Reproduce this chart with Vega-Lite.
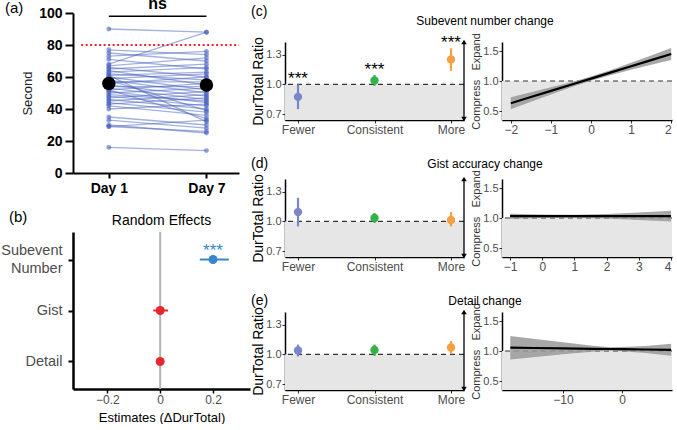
{
  "$schema": "https://vega.github.io/schema/vega-lite/v6.json",
  "background": "white",
  "padding": {"left": 0, "top": -4, "right": 4, "bottom": 0},
  "config": {
    "font": "Liberation Sans",
    "view": {"stroke": null},
    "axis": {"grid": false, "labelOverlap": false},
    "title": {"fontWeight": "normal", "color": "black"}
  },
  "datasets": {
    "indiv": [
      {"id":1,"day":1,"sec":90},{"id":1,"day":7,"sec":88},
      {"id":2,"day":1,"sec":77},{"id":2,"day":7,"sec":74},
      {"id":3,"day":1,"sec":75},{"id":3,"day":7,"sec":70},
      {"id":4,"day":1,"sec":73},{"id":4,"day":7,"sec":76},
      {"id":5,"day":1,"sec":71},{"id":5,"day":7,"sec":65},
      {"id":6,"day":1,"sec":68},{"id":6,"day":7,"sec":88},
      {"id":7,"day":1,"sec":67},{"id":7,"day":7,"sec":72},
      {"id":8,"day":1,"sec":66},{"id":8,"day":7,"sec":60},
      {"id":9,"day":1,"sec":65},{"id":9,"day":7,"sec":68},
      {"id":10,"day":1,"sec":64},{"id":10,"day":7,"sec":55},
      {"id":11,"day":1,"sec":63},{"id":11,"day":7,"sec":66},
      {"id":12,"day":1,"sec":62},{"id":12,"day":7,"sec":58},
      {"id":13,"day":1,"sec":61},{"id":13,"day":7,"sec":63},
      {"id":14,"day":1,"sec":60},{"id":14,"day":7,"sec":52},
      {"id":15,"day":1,"sec":59},{"id":15,"day":7,"sec":62},
      {"id":16,"day":1,"sec":58},{"id":16,"day":7,"sec":50},
      {"id":17,"day":1,"sec":57},{"id":17,"day":7,"sec":57},
      {"id":18,"day":1,"sec":56},{"id":18,"day":7,"sec":60},
      {"id":19,"day":1,"sec":55},{"id":19,"day":7,"sec":48},
      {"id":20,"day":1,"sec":54},{"id":20,"day":7,"sec":54},
      {"id":21,"day":1,"sec":53},{"id":21,"day":7,"sec":46},
      {"id":22,"day":1,"sec":52},{"id":22,"day":7,"sec":56},
      {"id":23,"day":1,"sec":51},{"id":23,"day":7,"sec":44},
      {"id":24,"day":1,"sec":50},{"id":24,"day":7,"sec":53},
      {"id":25,"day":1,"sec":49},{"id":25,"day":7,"sec":45},
      {"id":26,"day":1,"sec":48},{"id":26,"day":7,"sec":42},
      {"id":27,"day":1,"sec":47},{"id":27,"day":7,"sec":51},
      {"id":28,"day":1,"sec":46},{"id":28,"day":7,"sec":40},
      {"id":29,"day":1,"sec":45},{"id":29,"day":7,"sec":49},
      {"id":30,"day":1,"sec":44},{"id":30,"day":7,"sec":38},
      {"id":31,"day":1,"sec":43},{"id":31,"day":7,"sec":47},
      {"id":32,"day":1,"sec":42},{"id":32,"day":7,"sec":36},
      {"id":33,"day":1,"sec":40},{"id":33,"day":7,"sec":43},
      {"id":34,"day":1,"sec":52},{"id":34,"day":7,"sec":34},
      {"id":35,"day":1,"sec":58},{"id":35,"day":7,"sec":39},
      {"id":36,"day":1,"sec":35},{"id":36,"day":7,"sec":30},
      {"id":37,"day":1,"sec":61},{"id":37,"day":7,"sec":32},
      {"id":38,"day":1,"sec":33},{"id":38,"day":7,"sec":28},
      {"id":39,"day":1,"sec":30},{"id":39,"day":7,"sec":25},
      {"id":40,"day":1,"sec":29},{"id":40,"day":7,"sec":26},
      {"id":41,"day":1,"sec":29},{"id":41,"day":7,"sec":33},
      {"id":42,"day":1,"sec":16},{"id":42,"day":7,"sec":14}
    ],
    "means": [{"day":1,"sec":56},{"day":7,"sec":55}],
    "re": [
      {"term":"Subevent Number","est":0.2,"lo":0.15,"hi":0.26,"sig":"***"},
      {"term":"Gist","est":0,"lo":-0.026,"hi":0.03,"sig":""},
      {"term":"Detail","est":0,"lo":-0.006,"hi":0.006,"sig":""}
    ],
    "c_pts": [
      {"cond":"Fewer","est":0.874,"lo":0.75,"hi":1.0,"sig":"***"},
      {"cond":"Consistent","est":1.04,"lo":0.986,"hi":1.095,"sig":"***"},
      {"cond":"More","est":1.254,"lo":1.138,"hi":1.366,"sig":"***"}
    ],
    "d_pts": [
      {"cond":"Fewer","est":1.095,"lo":0.95,"hi":1.24},
      {"cond":"Consistent","est":1.035,"lo":0.985,"hi":1.085},
      {"cond":"More","est":1.015,"lo":0.95,"hi":1.095}
    ],
    "e_pts": [
      {"cond":"Fewer","est":1.04,"lo":0.98,"hi":1.1},
      {"cond":"Consistent","est":1.045,"lo":0.985,"hi":1.1},
      {"cond":"More","est":1.07,"lo":1.01,"hi":1.135}
    ],
    "c_fit": [
      {"x":-2,"fit":0.63,"lo":0.53,"hi":0.73},
      {"x":-1.5,"fit":0.733,"lo":0.654,"hi":0.811},
      {"x":-1,"fit":0.835,"lo":0.776,"hi":0.894},
      {"x":-0.5,"fit":0.938,"lo":0.895,"hi":0.98},
      {"x":0,"fit":1.04,"lo":1.005,"hi":1.075},
      {"x":0.5,"fit":1.143,"lo":1.1,"hi":1.185},
      {"x":1,"fit":1.245,"lo":1.186,"hi":1.304},
      {"x":1.5,"fit":1.348,"lo":1.269,"hi":1.426},
      {"x":2,"fit":1.45,"lo":1.35,"hi":1.55}
    ],
    "d_fit": [
      {"x":-1,"fit":1.03,"lo":0.988,"hi":1.072},
      {"x":0,"fit":1.03,"lo":1.002,"hi":1.058},
      {"x":1,"fit":1.03,"lo":1.005,"hi":1.055},
      {"x":2,"fit":1.03,"lo":0.992,"hi":1.068},
      {"x":3,"fit":1.03,"lo":0.968,"hi":1.092},
      {"x":4,"fit":1.03,"lo":0.94,"hi":1.12}
    ],
    "e_fit": [
      {"x":-18.9,"fit":1.055,"lo":0.86,"hi":1.25},
      {"x":-15,"fit":1.05,"lo":0.895,"hi":1.205},
      {"x":-10,"fit":1.044,"lo":0.944,"hi":1.144},
      {"x":-5,"fit":1.037,"lo":0.987,"hi":1.087},
      {"x":-2,"fit":1.033,"lo":1.003,"hi":1.063},
      {"x":0,"fit":1.03,"lo":0.995,"hi":1.065},
      {"x":4,"fit":1.025,"lo":0.965,"hi":1.085},
      {"x":8.3,"fit":1.02,"lo":0.92,"hi":1.12}
    ]
  },
  "hconcat": [
    {
      "vconcat": [
        {
          "width": 166, "height": 160,
          "title": {"text": "(a)", "anchor": "start", "frame": "group", "dx": -68, "dy": 20, "offset": 0, "fontSize": 15},
          "layer": [
            {
              "data": {"name": "indiv"},
              "mark": {"type": "line", "color": "#4a63c0", "opacity": 0.5, "strokeWidth": 1.3},
              "encoding": {
                "x": {"field": "day", "type": "quantitative", "scale": {"domain": [-1.2, 9], "nice": false, "zero": false},
                      "axis": {"values": [1, 7], "tickCount": 10, "labelExpr": "'Day ' + datum.value", "title": null, "labelFontSize": 14, "labelFontWeight": "bold", "labelColor": "black", "domainColor": "black", "domainWidth": 2, "tickColor": "black", "tickWidth": 2, "tickSize": 5, "labelPadding": 3}},
                "y": {"field": "sec", "type": "quantitative", "scale": {"domain": [0, 100], "nice": false},
                      "axis": {"values": [0, 20, 40, 60, 80, 100], "tickCount": 10, "title": "Second", "titleFontSize": 13, "titleFontWeight": "normal", "titleColor": "#222222", "titlePadding": 4, "labelFontSize": 14, "labelFontWeight": "bold", "labelColor": "black", "domainColor": "black", "domainWidth": 2, "tickColor": "black", "tickWidth": 2, "tickSize": 8, "labelPadding": 3}},
                "detail": {"field": "id", "type": "nominal"}
              }
            },
            {
              "data": {"name": "indiv"},
              "mark": {"type": "circle", "color": "#4a63c0", "opacity": 0.6, "size": 24},
              "encoding": {"x": {"field": "day", "type": "quantitative"}, "y": {"field": "sec", "type": "quantitative"}}
            },
            {
              "data": {"values": [{}]},
              "mark": {"type": "rule", "color": "#e8262d", "strokeDash": [2, 2.5], "strokeWidth": 2},
              "encoding": {"x": {"datum": -0.7}, "x2": {"datum": 9}, "y": {"datum": 80}}
            },
            {
              "data": {"name": "means"},
              "mark": {"type": "circle", "color": "black", "opacity": 1, "size": 180},
              "encoding": {"x": {"field": "day", "type": "quantitative"}, "y": {"field": "sec", "type": "quantitative"}}
            },
            {
              "data": {"values": [{}]},
              "mark": {"type": "rule", "color": "black", "strokeWidth": 1.5},
              "encoding": {"x": {"datum": 1}, "x2": {"datum": 7}, "y": {"datum": 98}}
            },
            {
              "data": {"values": [{}]},
              "mark": {"type": "text", "text": "ns", "fontSize": 16, "fontWeight": "bold", "baseline": "alphabetic", "color": "black"},
              "encoding": {"x": {"datum": 4}, "y": {"datum": 102.5}}
            }
          ]
        },
        {
          "title": {"text": "(b)", "anchor": "start", "frame": "group", "dx": -64, "dy": 11, "offset": 0, "fontSize": 15},
          "vconcat": [
            {
              "width": 177, "height": 157,
              "title": {"text": "Random Effects", "fontSize": 14, "offset": 3, "anchor": "middle"},
              "data": {"name": "re"},
              "layer": [
                {
                  "data": {"values": [{}]},
                  "mark": {"type": "rule", "color": "#b3b3b3", "strokeWidth": 2},
                  "encoding": {"x": {"datum": 0}}
                },
                {
                  "mark": {"type": "rule", "strokeWidth": 2},
                  "encoding": {
                    "x": {"field": "lo", "type": "quantitative", "scale": {"domain": [-0.33, 0.34], "nice": false, "zero": false},
                          "axis": {"values": [-0.2, 0, 0.2], "tickCount": 10, "format": ".1f", "labelExpr": "datum.value == 0 ? '0' : datum.label", "title": "Estimates (ΔDurTotal)", "titleFontSize": 13, "titleFontWeight": "normal", "titleColor": "black", "titlePadding": 6, "labelFontSize": 12, "labelColor": "#4d4d4d", "labelPadding": 1, "tickSize": 4, "tickColor": "black", "tickWidth": 1.5, "domainColor": "black", "domainWidth": 2.5}},
                    "x2": {"field": "hi"},
                    "y": {"field": "term", "type": "nominal", "sort": ["Subevent Number", "Gist", "Detail"], "scale": {"type": "point", "padding": 0.54},
                          "axis": {"title": null, "labelExpr": "datum.value == 'Subevent Number' ? ['Subevent', 'Number'] : datum.label", "labelOffset": {"condition": {"test": "datum.value == 'Subevent Number'", "value": -9}, "value": 0}, "labelFontSize": 14.5, "labelColor": "#4d4d4d", "labelPadding": 6, "labelLineHeight": 18, "tickSize": 5, "tickColor": "black", "tickWidth": 2, "domainColor": "black", "domainWidth": 2.5}},
                    "color": {"condition": {"test": "datum.term == 'Subevent Number'", "value": "#3a86c8"}, "value": "#e8262d"}
                  }
                },
                {
                  "mark": {"type": "circle", "size": 80, "opacity": 1},
                  "encoding": {
                    "x": {"field": "est", "type": "quantitative"},
                    "y": {"field": "term", "type": "nominal", "sort": ["Subevent Number", "Gist", "Detail"]},
                    "color": {"condition": {"test": "datum.term == 'Subevent Number'", "value": "#3a86c8"}, "value": "#e8262d"}
                  }
                },
                {
                  "mark": {"type": "text", "fontSize": 17, "baseline": "alphabetic", "dy": -4, "color": "#3a86c8"},
                  "encoding": {
                    "x": {"field": "est", "type": "quantitative"},
                    "y": {"field": "term", "type": "nominal", "sort": ["Subevent Number", "Gist", "Detail"]},
                    "text": {"field": "sig"}
                  }
                }
              ]
            }
          ]
        }
      ],
      "spacing": 15
    },
    {
      "vconcat": [
        {
          "vconcat": [
            {"width": 1, "height": 29, "data": {"values": []}, "mark": {"type": "point"}, "encoding": {}},
            {
              "hconcat": [
                {
                  "width": 179, "height": 78,
                  "title": {"text": "(c)", "anchor": "start", "frame": "group", "dx": -34, "offset": 15, "fontSize": 14},
                  "layer": [
                    {"data": {"values": [{}]}, "mark": {"type": "rect", "color": "#e6e6e6"}, "encoding": {"x": {"value": 0}, "x2": {"value": "width"}, "y": {"datum": 0.64}, "y2": {"datum": 1.0}}},
                    {"data": {"values": [{}]}, "mark": {"type": "rule", "color": "#333333", "strokeDash": [5, 4], "strokeWidth": 1.2}, "encoding": {"y": {"datum": 1.0}}},
                    {
                      "data": {"name": "c_pts"},
                      "mark": {"type": "rule", "strokeWidth": 2.2},
                      "encoding": {
                        "x": {"field": "cond", "type": "nominal", "sort": ["Fewer", "Consistent", "More"], "scale": {"type": "point", "padding": 0.17},
                              "axis": {"title": null, "labelAngle": 0, "labelFontSize": 12, "labelColor": "#4d4d4d", "labelPadding": 1, "tickSize": 3, "tickColor": "#333333", "domainColor": "black", "domainWidth": 1.5}},
                        "y": {"field": "lo", "type": "quantitative", "scale": {"domain": [0.64, 1.43], "nice": false, "zero": false},
                              "axis": {"values": [0.7, 1.0, 1.3], "tickCount": 10, "format": ".1f", "title": "DurTotal Ratio", "titleFontSize": 14, "titleFontWeight": "normal", "titleColor": "black", "titlePadding": 0, "labelFontSize": 11, "labelColor": "#4d4d4d", "labelPadding": 1, "tickSize": 3, "tickColor": "#333333", "domainColor": "black", "domainWidth": 1.5}},
                        "y2": {"field": "hi"},
                        "color": {"condition": [{"test": "datum.cond == 'Fewer'", "value": "#7b86c9"}, {"test": "datum.cond == 'Consistent'", "value": "#35b14a"}], "value": "#f6a03f"}
                      }
                    },
                    {
                      "data": {"name": "c_pts"},
                      "mark": {"type": "circle", "size": 70, "opacity": 1},
                      "encoding": {
                        "x": {"field": "cond", "type": "nominal", "sort": ["Fewer", "Consistent", "More"]},
                        "y": {"field": "est", "type": "quantitative"},
                        "color": {"condition": [{"test": "datum.cond == 'Fewer'", "value": "#7b86c9"}, {"test": "datum.cond == 'Consistent'", "value": "#35b14a"}], "value": "#f6a03f"}
                      }
                    },
                    {
                      "data": {"name": "c_pts"},
                      "mark": {"type": "text", "fontSize": 17, "baseline": "alphabetic", "color": "black"},
                      "encoding": {
                        "x": {"field": "cond", "type": "nominal", "sort": ["Fewer", "Consistent", "More"]},
                        "y": {"field": "hi", "type": "quantitative"},
                        "text": {"field": "sig"}
                      }
                    },
                    {"data": {"values": [{}]}, "mark": {"type": "rule", "color": "black", "strokeWidth": 1.3}, "encoding": {"x": {"value": "width"}, "y": {"datum": 0.66}, "y2": {"datum": 1.41}}},
                    {"data": {"values": [{}]}, "mark": {"type": "point", "shape": "triangle-up", "filled": true, "color": "black", "size": 30, "opacity": 1}, "encoding": {"x": {"value": "width"}, "y": {"datum": 1.43}}},
                    {"data": {"values": [{}]}, "mark": {"type": "point", "shape": "triangle-down", "filled": true, "color": "black", "size": 30, "opacity": 1}, "encoding": {"x": {"value": "width"}, "y": {"datum": 0.65}}}
                  ]
                },
                {
                  "width": 170, "height": 78,
                  "title": {"text": "Subevent number change", "anchor": "middle", "dx": -102, "offset": 5, "fontSize": 12},
                  "data": {"name": "c_fit"},
                  "layer": [
                    {"data": {"values": [{}]}, "mark": {"type": "rect", "color": "#e6e6e6"}, "encoding": {"x": {"value": 0}, "x2": {"value": "width"}, "y": {"datum": 0.35}, "y2": {"datum": 1.0}}},
                    {"data": {"values": [{}]}, "mark": {"type": "rule", "color": "#333333", "strokeDash": [5, 4], "strokeWidth": 1.2}, "encoding": {"y": {"datum": 1.0}}},
                    {
                      "mark": {"type": "area", "color": "#999999", "opacity": 0.85},
                      "encoding": {
                        "x": {"field": "x", "type": "quantitative", "scale": {"domain": [-2.22, 2.02], "nice": false, "zero": false},
                              "axis": {"values": [-2, -1, 0, 1, 2], "tickCount": 10, "format": "d", "title": null, "labelFontSize": 12, "labelColor": "#4d4d4d", "labelPadding": 1, "tickSize": 3, "tickColor": "#333333", "domainColor": "black", "domainWidth": 1.5}},
                        "y": {"field": "lo", "type": "quantitative", "scale": {"domain": [0.35, 1.65], "nice": false, "zero": false},
                              "axis": {"values": [0.5, 1.0, 1.5], "tickCount": 10, "format": ".1f", "title": "Compress\u00a0\u00a0\u00a0Expand", "titleFontSize": 11, "titleFontWeight": "normal", "titleColor": "#333333", "titlePadding": 1, "labelFontSize": 11, "labelColor": "#4d4d4d", "labelPadding": 1, "tickSize": 3, "tickColor": "#333333", "domainColor": "black", "domainWidth": 1.5}},
                        "y2": {"field": "hi"}
                      }
                    },
                    {
                      "mark": {"type": "line", "color": "black", "strokeWidth": 2.2},
                      "encoding": {"x": {"field": "x", "type": "quantitative"}, "y": {"field": "fit", "type": "quantitative"}}
                    }
                  ]
                }
              ],
              "spacing": 38,
              "bounds": "flush"
            }
          ],
          "spacing": 0,
          "bounds": "flush"
        },
        {
          "vconcat": [
            {
              "hconcat": [
                {
                  "width": 179, "height": 78,
                  "title": {"text": "(d)", "anchor": "start", "frame": "group", "dx": -34, "offset": 3, "fontSize": 14},
                  "layer": [
                    {"data": {"values": [{}]}, "mark": {"type": "rect", "color": "#e6e6e6"}, "encoding": {"x": {"value": 0}, "x2": {"value": "width"}, "y": {"datum": 0.64}, "y2": {"datum": 1.0}}},
                    {"data": {"values": [{}]}, "mark": {"type": "rule", "color": "#333333", "strokeDash": [5, 4], "strokeWidth": 1.2}, "encoding": {"y": {"datum": 1.0}}},
                    {
                      "data": {"name": "d_pts"},
                      "mark": {"type": "rule", "strokeWidth": 2.2},
                      "encoding": {
                        "x": {"field": "cond", "type": "nominal", "sort": ["Fewer", "Consistent", "More"], "scale": {"type": "point", "padding": 0.17},
                              "axis": {"title": null, "labelAngle": 0, "labelFontSize": 12, "labelColor": "#4d4d4d", "labelPadding": 1, "tickSize": 3, "tickColor": "#333333", "domainColor": "black", "domainWidth": 1.5}},
                        "y": {"field": "lo", "type": "quantitative", "scale": {"domain": [0.64, 1.43], "nice": false, "zero": false},
                              "axis": {"values": [0.7, 1.0, 1.3], "tickCount": 10, "format": ".1f", "title": "DurTotal Ratio", "titleFontSize": 14, "titleFontWeight": "normal", "titleColor": "black", "titlePadding": 0, "labelFontSize": 11, "labelColor": "#4d4d4d", "labelPadding": 1, "tickSize": 3, "tickColor": "#333333", "domainColor": "black", "domainWidth": 1.5}},
                        "y2": {"field": "hi"},
                        "color": {"condition": [{"test": "datum.cond == 'Fewer'", "value": "#7b86c9"}, {"test": "datum.cond == 'Consistent'", "value": "#35b14a"}], "value": "#f6a03f"}
                      }
                    },
                    {
                      "data": {"name": "d_pts"},
                      "mark": {"type": "circle", "size": 70, "opacity": 1},
                      "encoding": {
                        "x": {"field": "cond", "type": "nominal", "sort": ["Fewer", "Consistent", "More"]},
                        "y": {"field": "est", "type": "quantitative"},
                        "color": {"condition": [{"test": "datum.cond == 'Fewer'", "value": "#7b86c9"}, {"test": "datum.cond == 'Consistent'", "value": "#35b14a"}], "value": "#f6a03f"}
                      }
                    },
                    {"data": {"values": [{}]}, "mark": {"type": "rule", "color": "black", "strokeWidth": 1.3}, "encoding": {"x": {"value": "width"}, "y": {"datum": 0.66}, "y2": {"datum": 1.41}}},
                    {"data": {"values": [{}]}, "mark": {"type": "point", "shape": "triangle-up", "filled": true, "color": "black", "size": 30, "opacity": 1}, "encoding": {"x": {"value": "width"}, "y": {"datum": 1.43}}},
                    {"data": {"values": [{}]}, "mark": {"type": "point", "shape": "triangle-down", "filled": true, "color": "black", "size": 30, "opacity": 1}, "encoding": {"x": {"value": "width"}, "y": {"datum": 0.65}}}
                  ]
                },
                {
                  "width": 170, "height": 78,
                  "title": {"text": "Gist accuracy change", "anchor": "middle", "dx": -102, "dy": 1, "offset": 0, "fontSize": 12},
                  "data": {"name": "d_fit"},
                  "layer": [
                    {"data": {"values": [{}]}, "mark": {"type": "rect", "color": "#e6e6e6"}, "encoding": {"x": {"value": 0}, "x2": {"value": "width"}, "y": {"datum": 0.35}, "y2": {"datum": 1.0}}},
                    {"data": {"values": [{}]}, "mark": {"type": "rule", "color": "#333333", "strokeDash": [5, 4], "strokeWidth": 1.2}, "encoding": {"y": {"datum": 1.0}}},
                    {
                      "mark": {"type": "area", "color": "#999999", "opacity": 0.85},
                      "encoding": {
                        "x": {"field": "x", "type": "quantitative", "scale": {"domain": [-1.25, 4.03], "nice": false, "zero": false},
                              "axis": {"values": [-1, 0, 1, 2, 3, 4], "tickCount": 10, "format": "d", "title": null, "labelFontSize": 12, "labelColor": "#4d4d4d", "labelPadding": 1, "tickSize": 3, "tickColor": "#333333", "domainColor": "black", "domainWidth": 1.5}},
                        "y": {"field": "lo", "type": "quantitative", "scale": {"domain": [0.35, 1.65], "nice": false, "zero": false},
                              "axis": {"values": [0.5, 1.0, 1.5], "tickCount": 10, "format": ".1f", "title": "Compress\u00a0\u00a0\u00a0Expand", "titleFontSize": 11, "titleFontWeight": "normal", "titleColor": "#333333", "titlePadding": 1, "labelFontSize": 11, "labelColor": "#4d4d4d", "labelPadding": 1, "tickSize": 3, "tickColor": "#333333", "domainColor": "black", "domainWidth": 1.5}},
                        "y2": {"field": "hi"}
                      }
                    },
                    {
                      "mark": {"type": "line", "color": "black", "strokeWidth": 2.2},
                      "encoding": {"x": {"field": "x", "type": "quantitative"}, "y": {"field": "fit", "type": "quantitative"}}
                    }
                  ]
                }
              ],
              "spacing": 38,
              "bounds": "flush"
            },
            {
              "hconcat": [
                {
                  "width": 179, "height": 78,
                  "title": {"text": "(e)", "anchor": "start", "frame": "group", "dx": -34, "dy": 1, "offset": 0, "fontSize": 14},
                  "layer": [
                    {"data": {"values": [{}]}, "mark": {"type": "rect", "color": "#e6e6e6"}, "encoding": {"x": {"value": 0}, "x2": {"value": "width"}, "y": {"datum": 0.64}, "y2": {"datum": 1.0}}},
                    {"data": {"values": [{}]}, "mark": {"type": "rule", "color": "#333333", "strokeDash": [5, 4], "strokeWidth": 1.2}, "encoding": {"y": {"datum": 1.0}}},
                    {
                      "data": {"name": "e_pts"},
                      "mark": {"type": "rule", "strokeWidth": 2.2},
                      "encoding": {
                        "x": {"field": "cond", "type": "nominal", "sort": ["Fewer", "Consistent", "More"], "scale": {"type": "point", "padding": 0.17},
                              "axis": {"title": null, "labelAngle": 0, "labelFontSize": 12, "labelColor": "#4d4d4d", "labelPadding": 1, "tickSize": 3, "tickColor": "#333333", "domainColor": "black", "domainWidth": 1.5}},
                        "y": {"field": "lo", "type": "quantitative", "scale": {"domain": [0.64, 1.43], "nice": false, "zero": false},
                              "axis": {"values": [0.7, 1.0, 1.3], "tickCount": 10, "format": ".1f", "title": "DurTotal Ratio", "titleFontSize": 14, "titleFontWeight": "normal", "titleColor": "black", "titlePadding": 0, "labelFontSize": 11, "labelColor": "#4d4d4d", "labelPadding": 1, "tickSize": 3, "tickColor": "#333333", "domainColor": "black", "domainWidth": 1.5}},
                        "y2": {"field": "hi"},
                        "color": {"condition": [{"test": "datum.cond == 'Fewer'", "value": "#7b86c9"}, {"test": "datum.cond == 'Consistent'", "value": "#35b14a"}], "value": "#f6a03f"}
                      }
                    },
                    {
                      "data": {"name": "e_pts"},
                      "mark": {"type": "circle", "size": 70, "opacity": 1},
                      "encoding": {
                        "x": {"field": "cond", "type": "nominal", "sort": ["Fewer", "Consistent", "More"]},
                        "y": {"field": "est", "type": "quantitative"},
                        "color": {"condition": [{"test": "datum.cond == 'Fewer'", "value": "#7b86c9"}, {"test": "datum.cond == 'Consistent'", "value": "#35b14a"}], "value": "#f6a03f"}
                      }
                    },
                    {"data": {"values": [{}]}, "mark": {"type": "rule", "color": "black", "strokeWidth": 1.3}, "encoding": {"x": {"value": "width"}, "y": {"datum": 0.66}, "y2": {"datum": 1.41}}},
                    {"data": {"values": [{}]}, "mark": {"type": "point", "shape": "triangle-up", "filled": true, "color": "black", "size": 30, "opacity": 1}, "encoding": {"x": {"value": "width"}, "y": {"datum": 1.43}}},
                    {"data": {"values": [{}]}, "mark": {"type": "point", "shape": "triangle-down", "filled": true, "color": "black", "size": 30, "opacity": 1}, "encoding": {"x": {"value": "width"}, "y": {"datum": 0.65}}}
                  ]
                },
                {
                  "width": 170, "height": 78,
                  "title": {"text": "Detail change", "anchor": "middle", "dx": -102, "dy": 5, "offset": 0, "fontSize": 12},
                  "data": {"name": "e_fit"},
                  "layer": [
                    {"data": {"values": [{}]}, "mark": {"type": "rect", "color": "#e6e6e6"}, "encoding": {"x": {"value": 0}, "x2": {"value": "width"}, "y": {"datum": 0.35}, "y2": {"datum": 1.0}}},
                    {"data": {"values": [{}]}, "mark": {"type": "rule", "color": "#333333", "strokeDash": [5, 4], "strokeWidth": 1.2}, "encoding": {"y": {"datum": 1.0}}},
                    {
                      "mark": {"type": "area", "color": "#999999", "opacity": 0.85},
                      "encoding": {
                        "x": {"field": "x", "type": "quantitative", "scale": {"domain": [-20.3, 8.45], "nice": false, "zero": false},
                              "axis": {"values": [-10, 0], "tickCount": 10, "format": "d", "title": null, "labelFontSize": 12, "labelColor": "#4d4d4d", "labelPadding": 1, "tickSize": 3, "tickColor": "#333333", "domainColor": "black", "domainWidth": 1.5}},
                        "y": {"field": "lo", "type": "quantitative", "scale": {"domain": [0.35, 1.65], "nice": false, "zero": false},
                              "axis": {"values": [0.5, 1.0, 1.5], "tickCount": 10, "format": ".1f", "title": "Compress\u00a0\u00a0\u00a0Expand", "titleFontSize": 11, "titleFontWeight": "normal", "titleColor": "#333333", "titlePadding": 1, "labelFontSize": 11, "labelColor": "#4d4d4d", "labelPadding": 1, "tickSize": 3, "tickColor": "#333333", "domainColor": "black", "domainWidth": 1.5}},
                        "y2": {"field": "hi"}
                      }
                    },
                    {
                      "mark": {"type": "line", "color": "black", "strokeWidth": 2.2},
                      "encoding": {"x": {"field": "x", "type": "quantitative"}, "y": {"field": "fit", "type": "quantitative"}}
                    }
                  ]
                }
              ],
              "spacing": 38,
              "bounds": "flush"
            }
          ],
          "spacing": 21
        }
      ],
      "spacing": 21
    }
  ],
  "spacing": 1
}
